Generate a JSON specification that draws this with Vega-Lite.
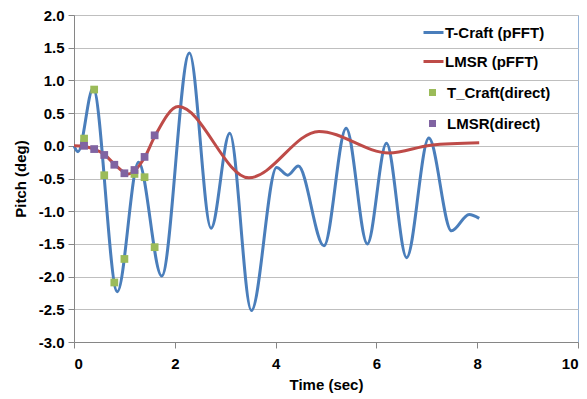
{
  "$schema": "https://vega.github.io/schema/vega-lite/v6.json",
  "width": 504,
  "height": 327,
  "autosize": {"type": "none"},
  "padding": {"left": 74, "top": 15, "right": 9, "bottom": 57},
  "background": "white",
  "config": {
    "font": "Liberation Sans",
    "view": {"stroke": "#95B3D7", "strokeWidth": 1},
    "axis": {
      "labelFont": "Liberation Sans", "labelFontSize": 15, "labelFontWeight": "bold", "labelColor": "#000000",
      "titleFont": "Liberation Sans", "titleFontSize": 15, "titleFontWeight": "bold", "titleColor": "#000000",
      "domainColor": "#868686", "tickColor": "#868686", "tickSize": 6, "gridColor": "#BFBFBF", "gridWidth": 1
    },
    "legend": {
      "labelFont": "Liberation Sans", "labelFontSize": 15, "labelFontWeight": "bold", "labelColor": "#000000",
      "padding": 0, "title": null
    }
  },
  "datasets": {
    "pfft": [
      {"t": 0.0, "pitch": 0.0, "series": "T-Craft (pFFT)"},
      {"t": 0.08, "pitch": -0.09, "series": "T-Craft (pFFT)"},
      {"t": 0.38, "pitch": 0.88, "series": "T-Craft (pFFT)"},
      {"t": 0.86, "pitch": -2.23, "series": "T-Craft (pFFT)"},
      {"t": 1.28, "pitch": -0.25, "series": "T-Craft (pFFT)"},
      {"t": 1.74, "pitch": -1.99, "series": "T-Craft (pFFT)"},
      {"t": 2.29, "pitch": 1.42, "series": "T-Craft (pFFT)"},
      {"t": 2.72, "pitch": -1.26, "series": "T-Craft (pFFT)"},
      {"t": 3.09, "pitch": 0.19, "series": "T-Craft (pFFT)"},
      {"t": 3.52, "pitch": -2.52, "series": "T-Craft (pFFT)"},
      {"t": 4.02, "pitch": -0.33, "series": "T-Craft (pFFT)"},
      {"t": 4.24, "pitch": -0.45, "series": "T-Craft (pFFT)"},
      {"t": 4.45, "pitch": -0.31, "series": "T-Craft (pFFT)"},
      {"t": 4.96, "pitch": -1.53, "series": "T-Craft (pFFT)"},
      {"t": 5.4, "pitch": 0.27, "series": "T-Craft (pFFT)"},
      {"t": 5.82, "pitch": -1.5, "series": "T-Craft (pFFT)"},
      {"t": 6.2, "pitch": 0.04, "series": "T-Craft (pFFT)"},
      {"t": 6.6, "pitch": -1.71, "series": "T-Craft (pFFT)"},
      {"t": 7.04, "pitch": 0.12, "series": "T-Craft (pFFT)"},
      {"t": 7.49, "pitch": -1.3, "series": "T-Craft (pFFT)"},
      {"t": 7.84, "pitch": -1.05, "series": "T-Craft (pFFT)"},
      {"t": 8.04, "pitch": -1.11, "series": "T-Craft (pFFT)"},
      {"t": 0.0, "pitch": 0.0, "series": "LMSR (pFFT)"},
      {"t": 0.2, "pitch": -0.01, "series": "LMSR (pFFT)"},
      {"t": 0.4, "pitch": -0.05, "series": "LMSR (pFFT)"},
      {"t": 0.6, "pitch": -0.13, "series": "LMSR (pFFT)"},
      {"t": 0.8, "pitch": -0.28, "series": "LMSR (pFFT)"},
      {"t": 1.08, "pitch": -0.43, "series": "LMSR (pFFT)"},
      {"t": 1.4, "pitch": -0.18, "series": "LMSR (pFFT)"},
      {"t": 1.6, "pitch": 0.14, "series": "LMSR (pFFT)"},
      {"t": 2.07, "pitch": 0.6, "series": "LMSR (pFFT)"},
      {"t": 3.47, "pitch": -0.49, "series": "LMSR (pFFT)"},
      {"t": 4.86, "pitch": 0.22, "series": "LMSR (pFFT)"},
      {"t": 6.25, "pitch": -0.11, "series": "LMSR (pFFT)"},
      {"t": 7.08, "pitch": 0.01, "series": "LMSR (pFFT)"},
      {"t": 8.04, "pitch": 0.045, "series": "LMSR (pFFT)"}
    ],
    "direct": [
      {"t": 0.2, "pitch": 0.11, "series": "T_Craft(direct)"},
      {"t": 0.4, "pitch": 0.86, "series": "T_Craft(direct)"},
      {"t": 0.6, "pitch": -0.45, "series": "T_Craft(direct)"},
      {"t": 0.8, "pitch": -2.09, "series": "T_Craft(direct)"},
      {"t": 1.0, "pitch": -1.73, "series": "T_Craft(direct)"},
      {"t": 1.2, "pitch": -0.43, "series": "T_Craft(direct)"},
      {"t": 1.4, "pitch": -0.48, "series": "T_Craft(direct)"},
      {"t": 1.6, "pitch": -1.55, "series": "T_Craft(direct)"},
      {"t": 0.2, "pitch": 0.0, "series": "LMSR(direct)"},
      {"t": 0.4, "pitch": -0.05, "series": "LMSR(direct)"},
      {"t": 0.6, "pitch": -0.14, "series": "LMSR(direct)"},
      {"t": 0.8, "pitch": -0.29, "series": "LMSR(direct)"},
      {"t": 1.0, "pitch": -0.42, "series": "LMSR(direct)"},
      {"t": 1.2, "pitch": -0.37, "series": "LMSR(direct)"},
      {"t": 1.4, "pitch": -0.17, "series": "LMSR(direct)"},
      {"t": 1.6, "pitch": 0.16, "series": "LMSR(direct)"}
    ]
  },
  "encoding": {
    "x": {
      "field": "t", "type": "quantitative",
      "scale": {"domain": [0, 10], "nice": false},
      "axis": {"title": "Time (sec)", "values": [0, 2, 4, 6, 8, 10], "format": "d", "grid": false, "labelPadding": 8, "titlePadding": 6}
    },
    "y": {
      "field": "pitch", "type": "quantitative",
      "scale": {"domain": [-3, 2], "nice": false, "zero": false},
      "axis": {
        "title": "Pitch (deg)",
        "values": [-3, -2.5, -2, -1.5, -1, -0.5, 0, 0.5, 1, 1.5, 2],
        "labelExpr": "replace(format(datum.value, '.1f'), '\u2212', '-')",
        "grid": true, "labelPadding": 4, "titlePadding": 10
      }
    }
  },
  "layer": [
    {
      "data": {"name": "pfft"},
      "mark": {"type": "line", "interpolate": "monotone", "strokeWidth": 3},
      "encoding": {
        "color": {
          "field": "series", "type": "nominal",
          "scale": {"domain": ["T-Craft (pFFT)", "LMSR (pFFT)"], "range": ["#4A7EBB", "#BE4B48"]},
          "legend": {
            "orient": "none", "legendX": 348, "legendY": 6,
            "symbolType": "stroke", "symbolSize": 400, "symbolStrokeWidth": 3,
            "labelOffset": 0, "rowPadding": 9
          }
        }
      }
    },
    {
      "data": {"name": "direct"},
      "mark": {"type": "square", "filled": true, "size": 60, "opacity": 1},
      "encoding": {
        "color": {
          "field": "series", "type": "nominal",
          "scale": {"domain": ["T_Craft(direct)", "LMSR(direct)"], "range": ["#9BBB59", "#8064A2"]},
          "legend": {
            "orient": "none", "legendX": 351, "legendY": 70,
            "symbolType": "square", "symbolSize": 49, "symbolOpacity": 1,
            "labelOffset": 7, "rowPadding": 15
          }
        }
      }
    }
  ],
  "resolve": {"scale": {"color": "independent"}, "legend": {"color": "independent"}}
}
